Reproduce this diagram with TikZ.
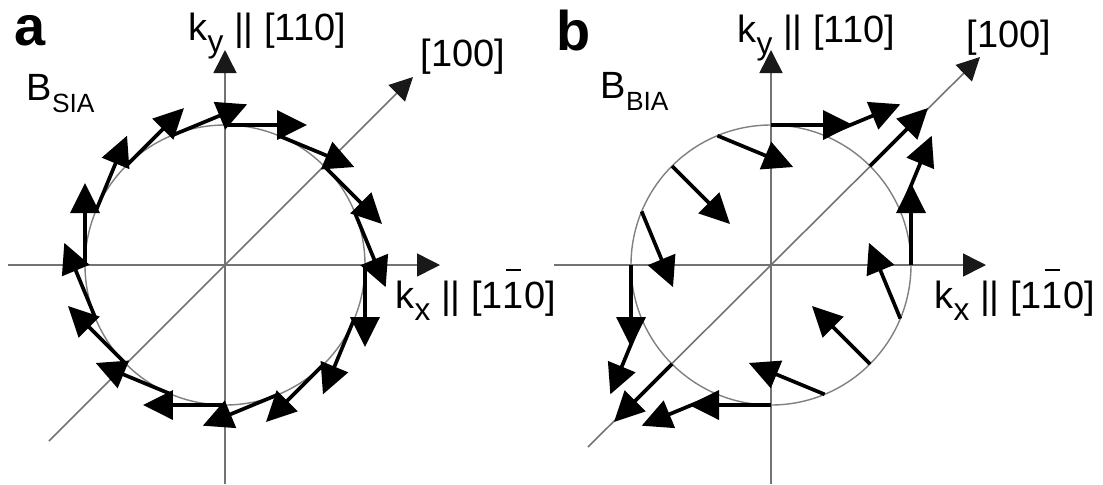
\documentclass[tikz,border=0pt]{standalone}
\usepackage{fontspec}
\setmainfont{Liberation Sans}
\usetikzlibrary{arrows.meta,calc}
\newcommand{\lowtext}[2][7.5]{\raisebox{-0.32em}{\fontsize{#1}{9}\selectfont #2}}
\newcommand{\barone}{{\ooalign{1\cr\hidewidth\raisebox{0.97em}{\rule{0.4em}{0.055em}}\hidewidth\cr}}}

\begin{document}
\begin{tikzpicture}[
  vec/.style={line width=1.05pt,-{Triangle[length=3mm,width=2.9mm]}},
  axis/.style={black!55,line width=0.45pt,-{Triangle[length=2.3mm,width=2.3mm,color=black!90]}},
  ring/.style={black!50,line width=0.4pt},
  lbl/.style={inner sep=0pt,anchor=base west,font=\fontsize{10.8}{13}\selectfont},
  tag/.style={inner sep=0pt,anchor=base west,font=\bfseries\fontsize{15.9}{19}\selectfont}]
\useasboundingbox (-2.25,-2.19) rectangle (8.78,2.65);
\coordinate (Oa) at (0,0); \coordinate (Ob) at (5.46,0); \def\R{1.4}
% a: SIA field
\coordinate (Wa) at (-2.17,0); \coordinate (Ea) at (2.15,0); \coordinate (Sa) at (0,-2.19); \coordinate (Na) at (0,2.15); \coordinate (La) at (-1.76,-1.76); \coordinate (Ua) at (1.88,1.88);
\draw[ring] (Oa) circle (\R);
\draw[axis] (Wa)--(Ea); \draw[axis] (Sa)--(Na); \draw[axis] (La)--(Ua);
\foreach \t in {0,22.5,...,337.5} \draw[vec] ($(Oa)+(\t:\R)$) -- ++({0.82*sin(\t)},{-0.82*cos(\t)});
\node[tag] (taga) at (-2.11,2.20) {a};
\node[lbl] (fielda) at (-1.99,1.65) {B\lowtext{SIA}};
\node[lbl] (kya) at (-0.37,2.25) {k\lowtext[9]{y} || [110]};
\node[lbl] (diaga) at (1.95,1.99) {[100]};
\node[lbl] (kxa) at (1.70,-0.43) {k\lowtext[9]{x} || [1\barone0]};
% b: BIA field
\coordinate (Wb) at (3.29,0); \coordinate (Eb) at (7.61,0); \coordinate (Sb) at (5.46,-2.19); \coordinate (Nb) at (5.46,2.15); \coordinate (Lb) at (3.63,-1.82); \coordinate (Ub) at (7.55,2.08);
\draw[ring] (Ob) circle (\R);
\draw[axis] (Wb)--(Eb); \draw[axis] (Sb)--(Nb); \draw[axis] (Lb)--(Ub);
\foreach \t in {0,22.5,...,337.5} \draw[vec] ($(Ob)+(\t:\R)$) -- ++({0.82*sin(\t)},{0.82*cos(\t)});
\node[tag] (tagb) at (3.31,2.15) {b};
\node[lbl] (fieldb) at (3.75,1.67) {B\lowtext{BIA}};
\node[lbl] (kyb) at (5.12,2.23) {k\lowtext[9]{y} || [110]};
\node[lbl] (diagb) at (7.41,2.18) {[100]};
\node[lbl] (kxb) at (7.09,-0.43) {k\lowtext[9]{x} || [1\barone0]};
\end{tikzpicture}
\end{document}
